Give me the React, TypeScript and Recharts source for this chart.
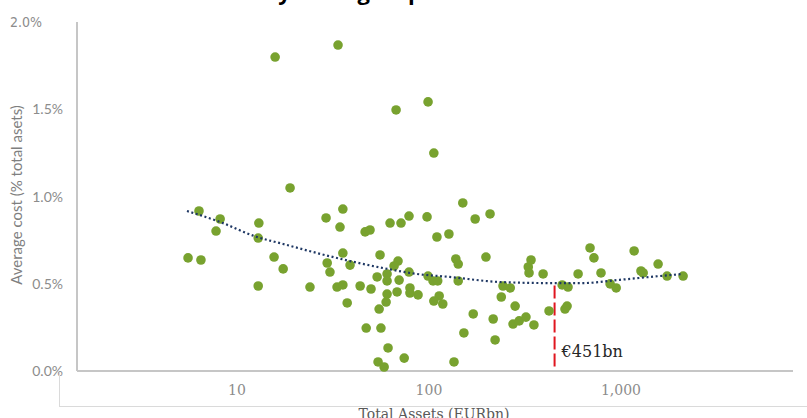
import React from 'react';
import { ScatterChart, Scatter, XAxis, YAxis, ReferenceLine } from 'recharts';

// total assets (EURbn) and average cost (% of total assets) per bank group
const totalAssets = [
  5.56, 6.49, 6.34, 8.17, 7.78, 13.0, 12.9, 18.9, 12.9, 15.6, 17.4, 15.8, 33.6, 67.4, 98.9, 106,
  35.6, 29.1, 34.4, 46.5, 49.3, 62.7, 71.5, 78.7, 97.7, 110, 127, 150, 208, 174,
  35.6, 29.5, 30.5, 38.8, 55.6, 69.0, 65.8, 78.7, 60.5, 53.7, 60.5, 69.9,
  24.0, 33.2, 35.6, 43.8, 49.9, 60.5, 68.2, 79.6, 79.6, 87.7, 98.9, 105, 111, 113,
  138, 142, 198, 142, 106, 118, 37.5, 59.8, 55.0, 47.1, 56.2, 61.2, 54.3, 58.4, 74.3,
  170, 152, 216, 221, 135, 238, 243, 265, 281, 274, 295, 320, 352, 422, 524, 511, 494, 530,
  329, 340, 332, 393, 598, 690, 723, 787, 878, 944, 1171, 1271, 1305, 1561, 1738, 2107,
];
const avgCost = [
  0.648, 0.636, 0.917, 0.871, 0.802, 0.848, 0.762, 1.049, 0.487, 0.653, 0.585, 1.799, 1.868, 1.496, 1.542, 1.249,
  0.928, 0.877, 0.825, 0.797, 0.808, 0.848, 0.848, 0.888, 0.883, 0.768, 0.785, 0.963, 0.9, 0.871,
  0.676, 0.619, 0.567, 0.607, 0.665, 0.63, 0.602, 0.567, 0.556, 0.539, 0.516, 0.521,
  0.481, 0.481, 0.493, 0.487, 0.47, 0.441, 0.453, 0.476, 0.447, 0.436, 0.544, 0.516, 0.516, 0.43,
  0.642, 0.613, 0.653, 0.516, 0.401, 0.384, 0.39, 0.395, 0.355, 0.246, 0.246, 0.132, 0.052, 0.023, 0.074,
  0.327, 0.218, 0.298, 0.178, 0.052, 0.424, 0.487, 0.476, 0.372, 0.269, 0.287, 0.309, 0.264, 0.344, 0.372, 0.355, 0.493, 0.481,
  0.596, 0.636, 0.562, 0.556, 0.556, 0.705, 0.648, 0.562, 0.499, 0.476, 0.688, 0.573, 0.562, 0.613, 0.544, 0.544,
];

// trend line
const trendAssets = [5.49, 8.16, 12.7, 17.4, 26.1, 38.8, 57.6, 86.6, 128, 234, 417, 634, 953, 1416, 2104];
const trendCost = [0.917, 0.854, 0.768, 0.728, 0.676, 0.63, 0.59, 0.556, 0.539, 0.51, 0.504, 0.504, 0.521, 0.539, 0.556];

const xTicks = [10, 100, 1000];
const yTicks = [0, 0.5, 1, 1.5, 2];
const thresholdAssets = 451;
const thresholdTop = 0.49;

const banks = totalAssets.map((x, i) => ({ x, y: avgCost[i] }));
const trend = trendAssets.map((x, i) => ({ x, y: trendCost[i] }));

const fmtThousands = (v: number) => String(v).replace(/\B(?=(\d{3})+(?!\d))/g, ',');

const XTick = (props: any) => (
  <text x={props.x} y={395} textAnchor="middle" fontFamily="DejaVu Serif" fontSize={14} fill="#8c8c8c">
    {fmtThousands(props.payload.value)}
  </text>
);

const YTick = (props: any) => {
  const top = props.payload.value === 2;
  return (
    <text
      x={top ? 42 : 63}
      y={props.y + 5}
      textAnchor="end"
      fontFamily={top ? 'Liberation Sans Narrow, DejaVu Sans Condensed' : 'Lato'}
      fontSize={14}
      fill="#8c8c8c"
    >
      {props.payload.value.toFixed(1)}%
    </text>
  );
};

const Dot = (props: any) => <circle cx={props.cx} cy={props.cy} r={4.8} fill="#78A22F" />;

const ThresholdLabel = (props: any) => {
  const vb = props.viewBox || { x: 0 };
  return (
    <text x={vb.x + 7} y={357} fontFamily="DejaVu Serif" fontSize={16} fill="#262626">
      €{thresholdAssets}bn
    </text>
  );
};

export default function App() {
  return (
    <div style={{ position: 'absolute', left: 0, top: 0, width: 807, height: 418, background: '#fff', overflow: 'hidden' }}>
      <ScatterChart width={807} height={418} margin={{ top: 22, right: 14, bottom: 0, left: 0 }}>
        <XAxis
          type="number"
          dataKey="x"
          scale="log"
          domain={[1.468, 7870]}
          allowDataOverflow
          ticks={xTicks}
          height={47}
          tickLine={false}
          axisLine={{ stroke: '#c6c6c6', strokeWidth: 2 }}
          tick={<XTick />}
        />
        <YAxis
          type="number"
          dataKey="y"
          domain={[0, 2]}
          ticks={yTicks}
          width={77}
          tickLine={false}
          axisLine={{ stroke: '#c6c6c6', strokeWidth: 2 }}
          tick={<YTick />}
        />
        <Scatter data={banks} shape={<Dot />} isAnimationActive={false} />
        <Scatter
          data={trend}
          line={{ stroke: '#1F3864', strokeWidth: 2.2, strokeDasharray: '2 2.6' }}
          lineJointType="monotoneX"
          shape={() => <g />}
          isAnimationActive={false}
        />
        <ReferenceLine
          segment={[{ x: thresholdAssets, y: thresholdTop }, { x: thresholdAssets, y: 0 }]}
          stroke="#e0161f"
          strokeWidth={2}
          strokeDasharray="13 4"
          label={<ThresholdLabel />}
        />
      </ScatterChart>
      <svg width={807} height={418} style={{ position: 'absolute', left: 0, top: 0, pointerEvents: 'none' }}>
        {/* chart title sits mostly above the visible area, only descenders show */}
        <text x={422} y={0} textAnchor="end" fontFamily="Open Sans" fontWeight={700} fontSize={22} fill="#000">
          Economies of scale by bank group
        </text>
        <text
          transform="translate(22 195) rotate(-90)"
          textAnchor="middle"
          fontFamily="Lato"
          fontSize={15}
          fill="#7f7f7f"
        >
          Average cost (% total asets)
        </text>
        <line x1={59.5} y1={373} x2={59.5} y2={406.5} stroke="#dadada" strokeWidth={1} />
        <line x1={59} y1={406.5} x2={807} y2={406.5} stroke="#dadada" strokeWidth={1} />
        <text x={434} y={419} textAnchor="middle" fontFamily="DejaVu Serif" fontSize={14} fill="#595959">
          Total Assets (EURbn)
        </text>
      </svg>
    </div>
  );
}
